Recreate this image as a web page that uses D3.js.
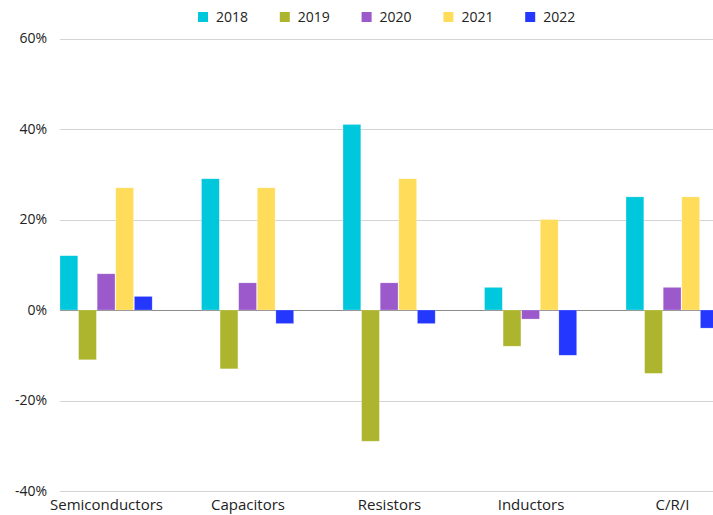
<!DOCTYPE html>
<html>
<head>
<meta charset="utf-8">
<script src="https://cdn.jsdelivr.net/npm/d3@7"></script>
<style>
  html, body { margin: 0; padding: 0; background: #fff; overflow: hidden; }
  text { font-family: "Open Sans", "Noto Sans", sans-serif; fill: #222; }
</style>
</head>
<body>
<div id="chart"></div>
<script>
const categories = ['Semiconductors', 'Capacitors', 'Resistors', 'Inductors', 'C/R/I']
const years = ['2018', '2019', '2020', '2021', '2022']
const colors = ['#00c8dc', '#adb52f', '#9b59cb', '#ffdc5a', '#2437ff']

// growth in %, one array per year, in category order
const v2018 = [12, 29, 41, 5, 25]
const v2019 = [-11, -13, -29, -8, -14]
const v2020 = [8, 6, 6, -2, 5]
const v2021 = [27, 27, 29, 20, 25]
const v2022 = [3, -3, -3, -10, -4]
const series = [v2018, v2019, v2020, v2021, v2022]

const yTicks = [-40, -20, 0, 20, 40, 60]

const width = 713
const height = 515

const svg = d3.select('#chart').append('svg')
  .attr('width', width)
  .attr('height', height)

// band runs past the right edge, as in the original (last bar is cut off)
const x = d3.scaleBand()
  .domain(categories)
  .range([60, 60 + 4 * 141.5 + 93])
  .paddingInner(0.343)
  .paddingOuter(0)

const x1 = d3.scaleBand().domain(years).range([0, x.bandwidth()])

const y = d3.scaleLinear().domain([-40, 60]).range([491, 38.5])

// gridlines
svg.append('g')
  .selectAll('line')
  .data(yTicks)
  .join('line')
  .attr('x1', 60)
  .attr('x2', width)
  .attr('y1', (d) => Math.round(y(d)) + 0.5)
  .attr('y2', (d) => Math.round(y(d)) + 0.5)
  .attr('stroke', (d) => (d === 0 ? '#8c8c8c' : '#d4d4d4'))
  .attr('stroke-width', (d) => (d === 0 ? 1.2 : 1))

// y labels
svg.append('g')
  .selectAll('text')
  .data(yTicks)
  .join('text')
  .attr('x', 47)
  .attr('y', (d) => y(d))
  .attr('dy', '0.35em')
  .attr('text-anchor', 'end')
  .attr('font-size', 14)
  .text((d) => d + '%')

// bars
const groups = svg.append('g')
  .selectAll('g')
  .data(series)
  .join('g')
  .attr('fill', (d, i) => colors[i])

groups.selectAll('rect')
  .data((s, i) => s.map((v, j) => ({ year: years[i], cat: categories[j], v })))
  .join('rect')
  .attr('x', (d) => x(d.cat) + x1(d.year))
  .attr('width', x1.bandwidth() - 0.8)
  .attr('y', (d) => y(Math.max(0, d.v)))
  .attr('height', (d) => Math.abs(y(d.v) - y(0)))
  .attr('stroke', '#fff')
  .attr('stroke-opacity', 0.4)
  .attr('stroke-width', 0.6)

// category labels
svg.append('g')
  .selectAll('text')
  .data(categories)
  .join('text')
  .attr('x', (d) => x(d) + x.bandwidth() / 2)
  .attr('y', 510)
  .attr('text-anchor', 'middle')
  .attr('font-size', 15)
  .text((d) => d)

// legend
const legend = svg.append('g')
  .selectAll('g')
  .data(years)
  .join('g')
  .attr('transform', (d, i) => `translate(${198 + i * 81.8},0)`)

legend.append('rect')
  .attr('y', 12)
  .attr('width', 10)
  .attr('height', 10)
  .attr('fill', (d, i) => colors[i])

legend.append('text')
  .attr('x', 18)
  .attr('y', 17)
  .attr('dy', '0.35em')
  .attr('font-size', 14)
  .text((d) => d)
</script>
</body>
</html>
